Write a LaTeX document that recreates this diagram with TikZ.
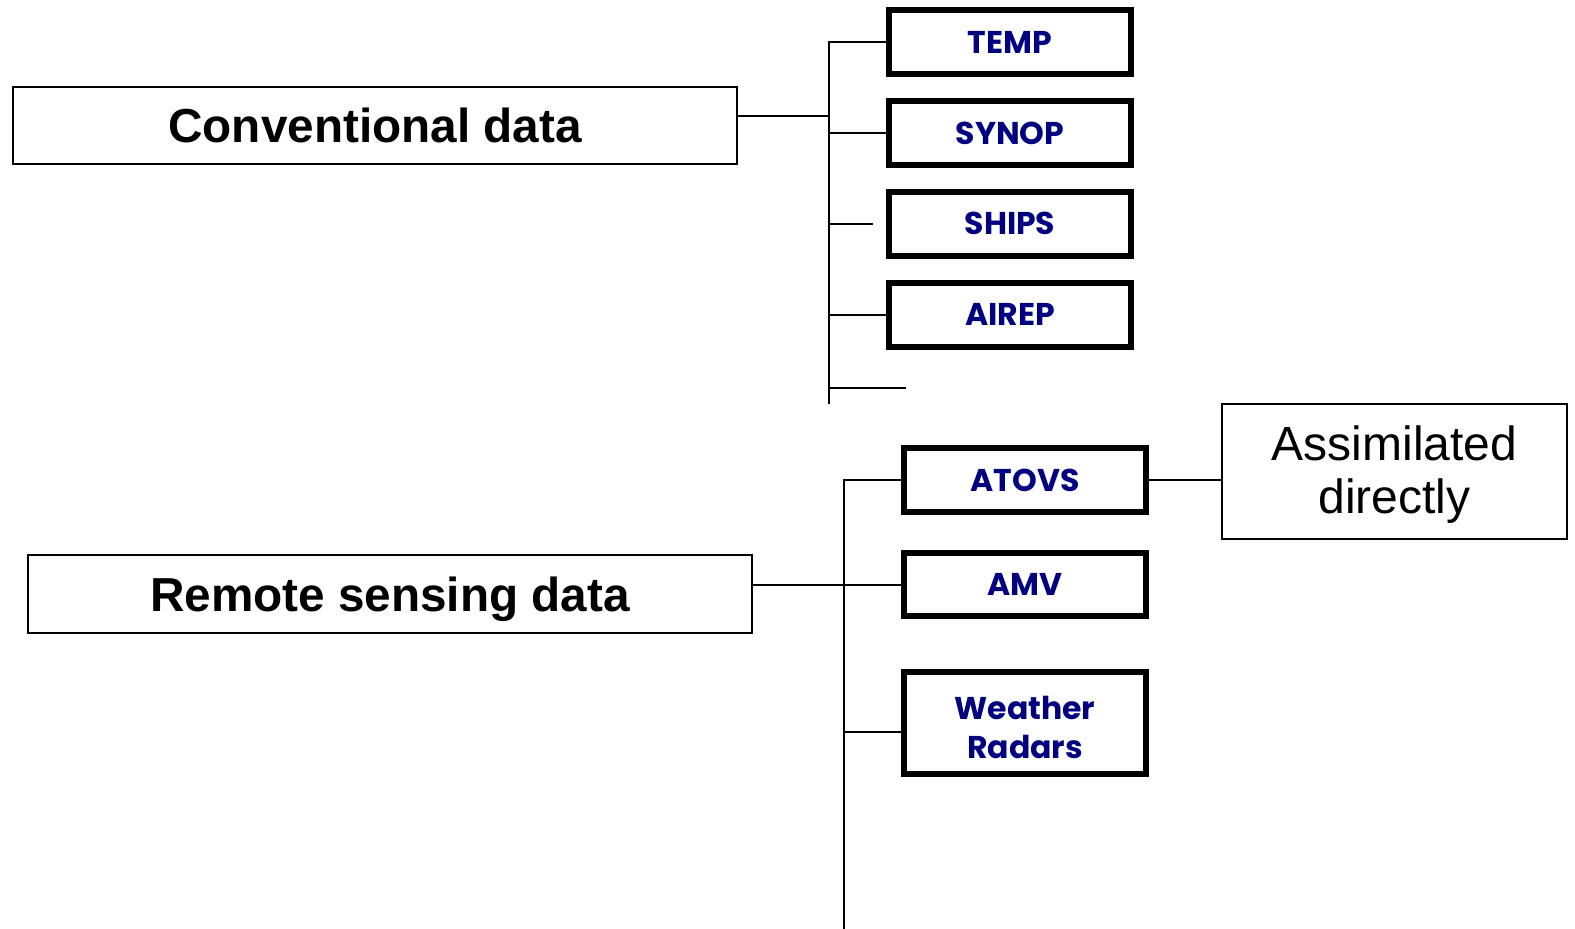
\documentclass[tikz,border=0pt]{standalone}
\usepackage{fontspec}
\setmainfont{Liberation Sans}
\newfontfamily\comicfont{Poppins}
\usetikzlibrary{calc}
\definecolor{navytext}{RGB}{0,0,128}
% text block lowered by #1 without changing its reported size
\newcommand{\lowerstack}[2]{\raisebox{-#1}[\height][\depth]{\begin{tabular}{@{}c@{}}#2\end{tabular}}}
\begin{document}
\begin{tikzpicture}[x=1pt,y=-1pt,
  link/.style={line width=2pt,line cap=rect},
  groupbox/.style={draw,line width=2pt,inner sep=0pt,minimum width=724pt,text depth=0pt,
    font=\fontsize{47.7}{57}\selectfont\bfseries},
  typebox/.style={draw,line width=6pt,inner sep=0pt,minimum width=242pt,minimum height=64pt,
    text=navytext,align=center,font=\comicfont\fontsize{31.5}{39}\selectfont\bfseries},
  notebox/.style={draw,line width=2pt,inner sep=0pt,minimum width=345pt,minimum height=135pt,
    font=\fontsize{48}{53}\selectfont}]
\useasboundingbox (0,0) rectangle (1575,929);

% group headings
\node[groupbox,minimum height=77pt] (conv) at (375,125.5) {Conventional data};
\node[groupbox,minimum height=78pt] (rs) at (390,594) {Remote sensing data};

% conventional observation types
\node[typebox] (temp)  at (1010,42)    {TEMP};
\node[typebox] (synop) at (1010,133)   {SYNOP};
\node[typebox] (ships) at (1010,223.5) {SHIPS};
\node[typebox] (airep) at (1010,314.5) {AIREP};

% remote sensing observation types
\node[typebox] (atovs) at (1025,480) {ATOVS};
\node[typebox,minimum height=63pt] (amv) at (1025,584.5) {AMV};
\node[typebox,minimum height=102pt] (radar) at (1025,723) {\lowerstack{8pt}{Weather\\Radars}};

\node[notebox] (assim) at (1394.5,471.5) {\lowerstack{5pt}{Assimilated\\directly}};

% upper tree
\coordinate (ubtop) at (829,42);
\coordinate (ubbot) at (829,403);
\coordinate (shipsend) at ($(ships.west)+(-14,0)$);
\coordinate (stub) at (905,388);
\draw[link] (ubtop) -- (ubbot);
\draw[link] (conv.east |- 0,116) -- (ubtop |- 0,116);
\draw[link] (ubtop) -- (temp.west);
\draw[link] (ubtop |- synop.west) -- (synop.west);
\draw[link] (ubtop |- shipsend) -- (shipsend);
\draw[link] (ubtop |- airep.west) -- (airep.west);
\draw[link] (ubtop |- stub) -- (stub);

% lower tree
\coordinate (lbtop) at (844,480);
\coordinate (lbbot) at (844,932);
\draw[link] (lbtop) -- (lbbot);
\draw[link] (lbtop) -- (atovs.west);
\draw[link] (rs.east |- amv.west) -- (amv.west);
\draw[link] (lbtop |- radar.west) ++(0,9) -- ($(radar.west)+(0,9)$);
\draw[link] (atovs.east) -- (atovs.east -| assim.west);
\end{tikzpicture}
\end{document}
